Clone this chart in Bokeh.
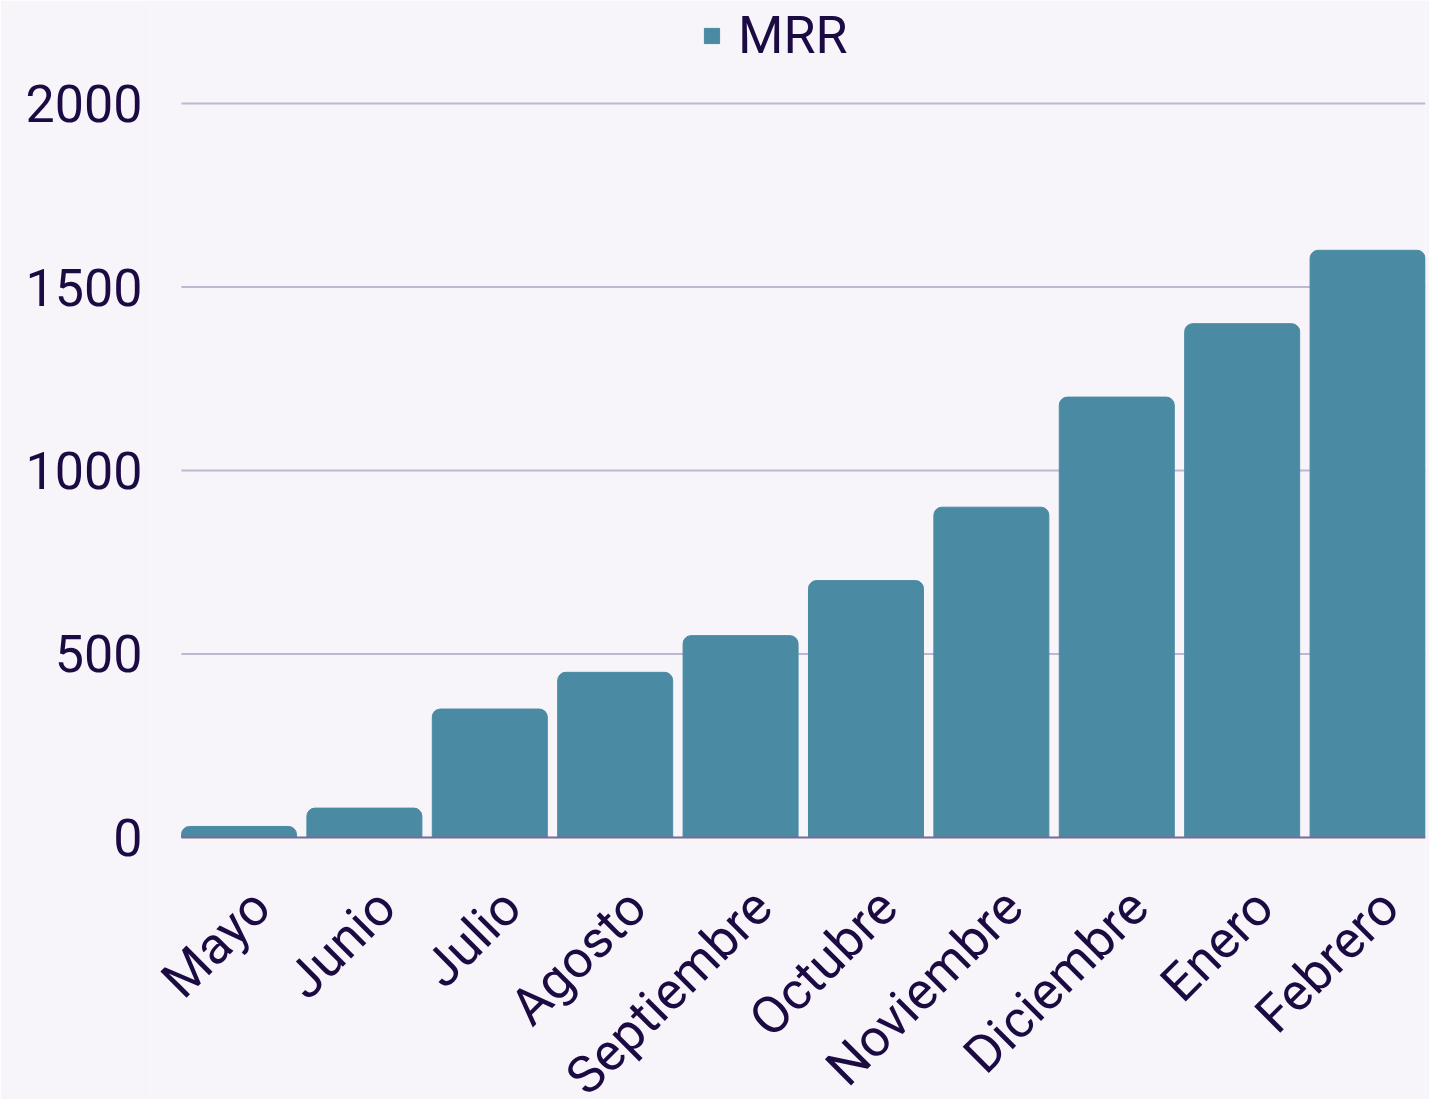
from bokeh.plotting import figure
from bokeh.models import ColumnDataSource, Legend, LegendItem, Range1d, LabelSet
from bokeh.core.properties import value
from bokeh.embed import file_html
from bokeh.resources import INLINE
import math

months = ["Mayo", "Junio", "Julio", "Agosto", "Septiembre", "Octubre",
          "Noviembre", "Diciembre", "Enero", "Febrero"]
mrr = [30, 80, 350, 450, 550, 700, 900, 1200, 1400, 1600]
y_ticks = [0, 500, 1000, 1500, 2000]

BG = "#f7f5fa"
BAR = "#4b8aa3"
TXT = "#1c0b43"
GRID = "#bdb7d1"
AXIS = "#7b6b93"
FONT = "Roboto"

n = len(months)
pos = [i + 0.5 for i in range(n)]  # slot centres on the x scale
src = ColumnDataSource(dict(month=months, mrr=mrr, x=pos, base=[0] * n))

# frame fills the canvas vertically; value 0 sits 262px above the bottom.
# x: slots start a little right of the frame's left edge so the first
# rotated label is not clipped.
X0, X1 = -0.2057, 9.962
p = figure(width=1429, height=1099, output_backend="svg", toolbar_location=None,
           x_range=Range1d(X0, X1), y_range=Range1d(-714, 2280.7),
           min_border_left=150, min_border_right=4, min_border_top=0,
           min_border_bottom=0)
p.background_fill_color = BG
p.border_fill_color = BG
p.outline_line_color = None
p.xgrid.visible = False
p.ygrid.visible = False
p.xaxis.visible = False

GRID_START = 0.0415
grid_src = ColumnDataSource(dict(y=y_ticks[1:], x0=[GRID_START] * 4, x1=[X1] * 4))
p.segment(x0="x0", x1="x1", y0="y", y1="y", source=grid_src,
          line_color=GRID, line_width=2)

r = p.vbar(x="x", top="mrr", bottom=0, width=0.917, source=src, color=BAR,
           border_radius=(8, 8, 0, 0))

axis_src = ColumnDataSource(dict(y=[0], x0=[GRID_START], x1=[X1]))
p.segment(x0="x0", x1="x1", y0="y", y1="y", source=axis_src,
          line_color=AXIS, line_width=2)

p.yaxis.ticker = y_ticks
p.yaxis.axis_line_color = None
p.yaxis.major_tick_line_color = None
p.yaxis.minor_tick_line_color = None
p.yaxis.major_tick_out = 0
p.yaxis.major_label_text_font = FONT
p.yaxis.major_label_text_font_size = "52px"
p.yaxis.major_label_text_color = TXT
p.yaxis.major_label_standoff = 8

labels = LabelSet(x="x", y="base", text="month", source=src,
                  angle=math.pi / 4, text_align="right", text_baseline="middle",
                  x_offset=22, y_offset=-61, text_font=value(FONT),
                  text_font_size=value("52px"), text_color=value(TXT))
p.add_layout(labels)

legend = Legend(items=[LegendItem(label="MRR", renderers=[r])],
                orientation="horizontal", location=(552, 1033),
                label_text_font=FONT, label_text_font_size="52px",
                label_text_color=TXT, glyph_width=19, glyph_height=19,
                label_standoff=17, padding=0, margin=0, spacing=0,
                background_fill_alpha=0, border_line_color=None)
p.add_layout(legend, "center")

open("out.html", "w").write(file_html(p, INLINE))
